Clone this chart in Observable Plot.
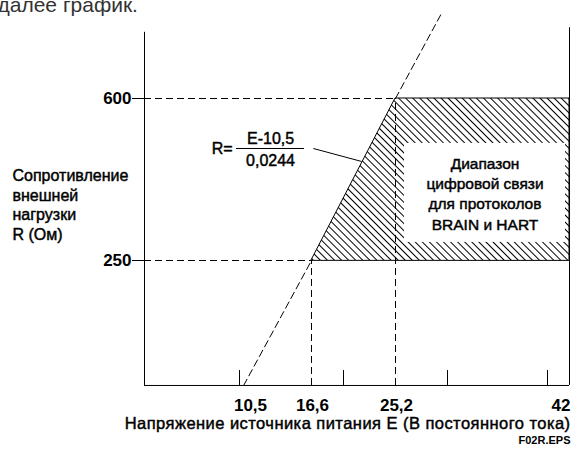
<!DOCTYPE html>
<html>
<head>
<meta charset="utf-8">
<script src="https://cdn.jsdelivr.net/npm/d3@7"></script>
<script src="https://cdn.jsdelivr.net/npm/@observablehq/plot@0.6"></script>
<style>
  html, body { margin: 0; padding: 0; background: #fff; }
  #chart { width: 582px; height: 453px; overflow: hidden; }
</style>
</head>
<body>
<div id="chart"></div>
<script>
// ---------- data ----------
// supply voltage E, V DC
const voltageTickValues = [10.5, 20, 30, 40];           // small tick marks on the E axis
const voltageLabelValues = [10.5, 16.6, 25.2, 42];       // labelled values
const voltageLabels = ["10,5", "16,6", "25,2", "42"];
// load resistance R, Ohm
const resistanceTickValues = [250, 600];
const resistanceLabels = ["250", "600"];
// corners of the communication range: R = (E - 10.5) / 0.0244
const kneeE = [16.6, 25.2];
const kneeR = [250, 600];
const maxVoltage = 42;
// dashed extensions of the line R = (E-10,5)/0,0244 beyond the range
const lowerExtE = [10.85, 16.6];
const lowerExtR = [-20, 250];
const upperExtE = [25.2, 29.45];
const upperExtR = [600, 784];
// axis extents (schematic)
const axisMinE = 0;
const axisMinR = -20;
const axisTopR = 743;
const borderTopR = 753;
// texts
const pageText = "далее график.";
const yTitle = "Сопротивление\nвнешней\nнагрузки\nR (Ом)";
const xTitle = "Напряжение источника питания E (В постоянного тока)";
const figureId = "F02R.EPS";
const rangeLabel = "Диапазон\nцифровой связи\nдля протоколов\nBRAIN и HART";
const formulaLeft = "R=";
const formulaNumerator = "E-10,5";
const formulaDenominator = "0,0244";

// ---------- tables built from the arrays ----------
const knees = kneeE.map((E, i) => ({E, R: kneeR[i]}));
const band = knees.map(d => ({R: d.R, E1: d.E, E2: maxVoltage}));
const lowerExt = lowerExtE.map((E, i) => ({E, R: lowerExtR[i]}));
const upperExt = upperExtE.map((E, i) => ({E, R: upperExtR[i]}));
const xLabels = voltageLabelValues.map((E, i) => ({E, label: voltageLabels[i]}));
const yLabels = resistanceTickValues.map((R, i) => ({R, label: resistanceLabels[i]}));
const formulaAt = {E: 13.13, R: 492};
const leader = {E1: 16.8, R1: 492, E2: 21.8, R2: 464};
const labelAt = {E: 33.75, R: 396};

const font = "'Liberation Sans', Arial, Helvetica, sans-serif";
const dash = "7,4";
const heavy = {stroke: "black", strokeWidth: 0.45};

const chart = Plot.plot({
  width: 582,
  height: 453,
  margin: 0,
  x: {
    type: "linear",
    domain: [axisMinE, 10.5, 16.6, 20, 25.2, 30, 40, 42],
    range: [144, 239, 311, 343, 395, 447, 547, 569],
    axis: null
  },
  y: {type: "linear", domain: [250, 600], range: [260, 98], axis: null},
  style: {fontFamily: font, background: "white", color: "black", overflow: "visible"},
  marks: [
    // hatched communication range
    Plot.areaX(band, {y: "R", x1: "E1", x2: "E2", fill: "url(#hatch)", stroke: "black", strokeWidth: 1, curve: "linear"}),
    // white box behind the range label
    Plot.rect([labelAt], {x1: "E", x2: "E", y1: "R", y2: "R", fill: "white",
      insetLeft: -80.5, insetRight: -80.5, insetTop: -49.5, insetBottom: -49.5}),
    Plot.text([rangeLabel], {x: () => labelAt.E, y: () => labelAt.R, text: d => d,
      fontSize: 15.5, lineHeight: 1.3, fill: "black", ...heavy}),
    // dashed guides
    Plot.ruleY(knees, {y: "R", x1: () => axisMinE, x2: "E", stroke: "black", strokeDasharray: dash}),
    Plot.ruleX(knees, {x: "E", y1: () => axisMinR, y2: "R", stroke: "black", strokeDasharray: dash}),
    Plot.line(lowerExt, {x: "E", y: "R", stroke: "black", strokeDasharray: dash, strokeWidth: 1}),
    Plot.line(upperExt, {x: "E", y: "R", stroke: "black", strokeDasharray: dash, strokeWidth: 1}),
    // axes frame
    Plot.ruleX([axisMinE], {x: d => d, y1: () => axisMinR, y2: () => axisTopR, stroke: "black"}),
    Plot.ruleX([maxVoltage], {x: d => d, y1: () => axisMinR, y2: () => borderTopR, stroke: "black"}),
    Plot.ruleY([axisMinR], {y: d => d, x1: () => axisMinE, x2: () => maxVoltage, stroke: "black"}),
    // ticks
    Plot.ruleX(voltageTickValues, {x: d => d, y1: () => axisMinR, y2: () => axisMinR, insetBottom: 15, stroke: "black"}),
    Plot.ruleY(resistanceTickValues, {y: d => d, x1: () => axisMinE, x2: () => axisMinE, insetLeft: -12, stroke: "black"}),
    // tick labels
    Plot.text(yLabels, {x: () => axisMinE, y: "R", text: "label", textAnchor: "end", dx: -13,
      fontSize: 17, fontWeight: "bold", fill: "black"}),
    Plot.text(xLabels.slice(0, 1), {x: "E", y: () => axisMinR, text: "label", dx: 11, dy: 20,
      fontSize: 17, fontWeight: "bold", fill: "black"}),
    Plot.text(xLabels.slice(1, 3), {x: "E", y: () => axisMinR, text: "label", dx: 1, dy: 20,
      fontSize: 17, fontWeight: "bold", fill: "black"}),
    Plot.text(xLabels.slice(3), {x: "E", y: () => axisMinR, text: "label", textAnchor: "end", dx: 1, dy: 20,
      fontSize: 17, fontWeight: "bold", fill: "black"}),
    // axis titles
    Plot.text([xTitle], {x: () => maxVoltage, y: () => axisMinR, text: d => d, textAnchor: "end", dx: 1, dy: 38,
      fontSize: 16.5, fill: "black", ...heavy}),
    Plot.text([figureId], {x: () => maxVoltage, y: () => axisMinR, text: d => d, textAnchor: "end", dx: 1, dy: 55,
      fontSize: 11, fontWeight: "bold", fill: "black"}),
    Plot.text([yTitle], {frameAnchor: "left", y: () => 371, text: d => d, textAnchor: "start", dx: 12,
      fontSize: 16, lineHeight: 1.22, fill: "black", ...heavy}),
    // formula annotation
    Plot.text([formulaLeft], {x: () => formulaAt.E, y: () => formulaAt.R, text: d => d, textAnchor: "end", dx: -38,
      fontSize: 16, fill: "black", ...heavy}),
    Plot.text([formulaNumerator], {x: () => formulaAt.E, y: () => formulaAt.R, text: d => d, dy: -10,
      fontSize: 16, fill: "black", ...heavy}),
    Plot.text([formulaDenominator], {x: () => formulaAt.E, y: () => formulaAt.R, text: d => d, dy: 12,
      fontSize: 16, fill: "black", ...heavy}),
    Plot.ruleY([formulaAt], {y: "R", x1: "E", x2: "E", insetLeft: -34, insetRight: -34, stroke: "black"}),
    Plot.link([leader], {x1: "E1", y1: "R1", x2: "E2", y2: "R2", stroke: "black"}),
    // cropped document text above the figure
    Plot.text([pageText], {frameAnchor: "top-left", text: d => d, textAnchor: "start", lineAnchor: "bottom",
      dx: -3, dy: 11, fontSize: 21, fill: "#333"})
  ]
});

// widen the x-axis title a little, as in the reference
d3.select(chart).selectAll("text")
  .filter(function () { return this.textContent === xTitle; })
  .style("letter-spacing", "0.45px");

// hatch pattern definition
const ns = "http://www.w3.org/2000/svg";
const defs = document.createElementNS(ns, "defs");
const pattern = document.createElementNS(ns, "pattern");
pattern.setAttribute("id", "hatch");
pattern.setAttribute("patternUnits", "userSpaceOnUse");
pattern.setAttribute("width", "5");
pattern.setAttribute("height", "5");
pattern.setAttribute("patternTransform", "rotate(-45)");
const bg = document.createElementNS(ns, "rect");
bg.setAttribute("width", "5"); bg.setAttribute("height", "5"); bg.setAttribute("fill", "white");
const ln = document.createElementNS(ns, "line");
ln.setAttribute("x1", "2.5"); ln.setAttribute("y1", "-1");
ln.setAttribute("x2", "2.5"); ln.setAttribute("y2", "6");
ln.setAttribute("stroke", "black"); ln.setAttribute("stroke-width", "1");
pattern.appendChild(bg); pattern.appendChild(ln);
defs.appendChild(pattern);
chart.insertBefore(defs, chart.firstChild);

document.getElementById("chart").appendChild(chart);
</script>
</body>
</html>
